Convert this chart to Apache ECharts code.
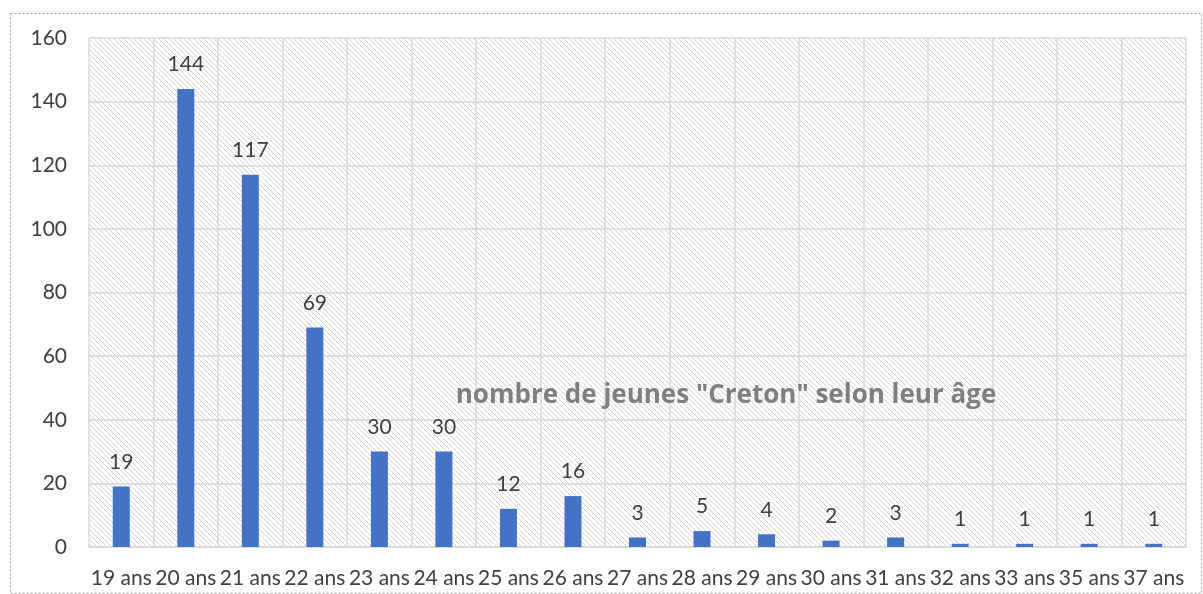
<!DOCTYPE html>
<html><head><meta charset="utf-8">
<script src="https://cdn.jsdelivr.net/npm/echarts@6/dist/echarts.min.js"></script>
<style>html,body{margin:0;padding:0;background:#fff}#c{width:1203px;height:594px}</style>
</head><body><div id="c"></div>
<script>
const categories = ['19 ans','20 ans','21 ans','22 ans','23 ans','24 ans','25 ans','26 ans','27 ans','28 ans','29 ans','30 ans','31 ans','32 ans','33 ans','35 ans','37 ans'];
const values = [19,144,117,69,30,30,12,16,3,5,4,2,3,1,1,1,1];
const yTicks = [0,20,40,60,80,100,120,140,160];

const tile = document.createElement('canvas');
tile.width = 5; tile.height = 5;
const tc = tile.getContext('2d');
tc.fillStyle = '#ffffff'; tc.fillRect(0,0,5,5);
tc.strokeStyle = '#d4d4d4'; tc.lineWidth = 1;
tc.beginPath();
tc.moveTo(-2,-2); tc.lineTo(7,7);
tc.moveTo(-2,3); tc.lineTo(2,7);
tc.moveTo(3,-2); tc.lineTo(7,2);
tc.stroke();

const chart = echarts.init(document.getElementById('c'));
const font = 'Lato, "Liberation Sans", sans-serif';
chart.setOption({
  animation: false,
  textStyle: { fontFamily: font },
  graphic: [{
    type: 'rect', shape: { x: 10.5, y: 13.5, width: 1191, height: 580 },
    style: { fill: 'none', stroke: '#a6a6a6', lineWidth: 1, lineDash: [2, 2] }, z: -10
  }],
  title: {
    text: 'nombre de jeunes "Creton" selon leur âge',
    left: 721, top: 378, textAlign: 'center',
    textStyle: { fontSize: 26, fontWeight: 'bold', color: '#7f7f7f', fontFamily: 'Open Sans, sans-serif' }
  },
  grid: { left: 89, right: 17, top: 38, bottom: 47, show: true, borderWidth: 0,
    backgroundColor: { image: tile, repeat: 'repeat' } },
  xAxis: {
    type: 'category', data: categories,
    axisLine: { lineStyle: { color: '#d9d9d9', width: 1.5 } },
    axisTick: { show: false },
    splitLine: { show: true, lineStyle: { color: '#d9d9d9', width: 1.5 } },
    axisLabel: { color: '#404040', fontSize: 21, margin: 21, interval: 0 }
  },
  yAxis: {
    type: 'value', min: 0, max: 160, interval: 20,
    axisLine: { show: false }, axisTick: { show: false },
    splitLine: { lineStyle: { color: '#d9d9d9', width: 1.5 } },
    axisLabel: { color: '#404040', fontSize: 21, margin: 22,
      formatter: v => yTicks.includes(v) ? String(v) : '' }
  },
  series: [{
    type: 'bar', data: values, barWidth: 17,
    itemStyle: { color: '#4472c4' },
    label: { show: true, position: 'top', distance: 14, color: '#404040', fontSize: 21 }
  }]
});
</script></body></html>
